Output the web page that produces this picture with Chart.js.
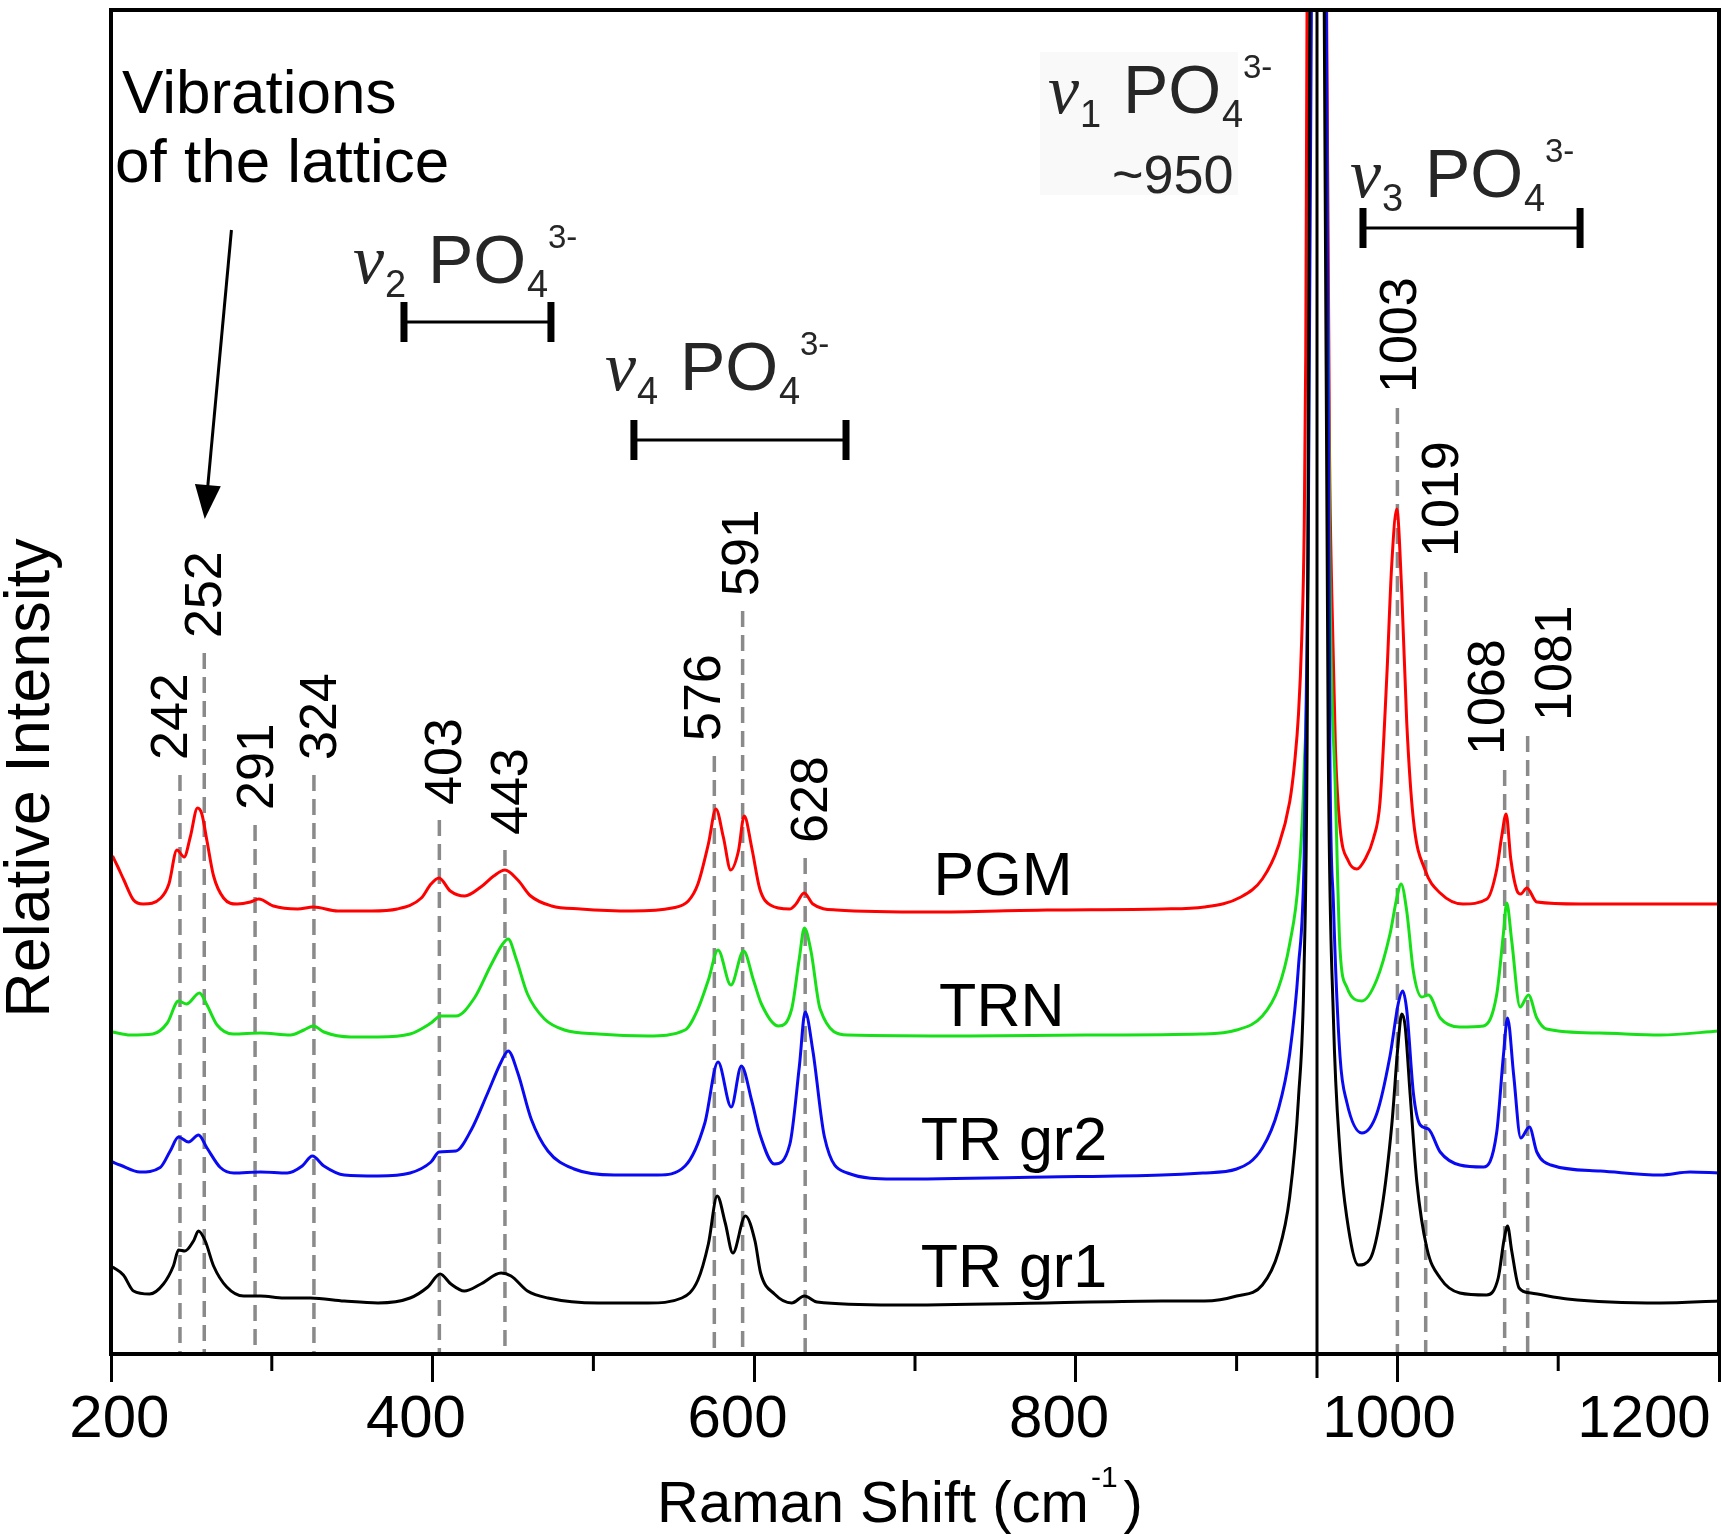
<!DOCTYPE html>
<html>
<head>
<meta charset="utf-8">
<script src="https://cdn.jsdelivr.net/npm/chart.js@4.4.1/dist/chart.umd.min.js"></script>
<style>
  html, body { margin: 0; padding: 0; background: #fff; }
  #wrap { width: 1722px; height: 1534px; }
</style>
</head>
<body>
<div id="wrap"><canvas id="c" width="1722" height="1534"></canvas></div>
<script>
// ---------------- DATA (Raman shift cm-1, relative intensity) ----------------
const pgm = [[201,498],[204,488],[208,474],[214,454],[220,450],[231,456],[236,470],[241,504],[245.5,497],[249.3,517],[253.8,546],[256.5,540],[259.7,513],[263.8,478],[270,456],[278.4,450],[286.7,452],[291.9,455],[301,448],[316,445],[326,447],[341,443],[362,443],[378,445],[393,456],[399,470],[404,476],[411,463],[420,458],[430,467],[438,478],[445,484],[453,474],[461,458],[474,448],[492,445],[524,443],[549,446],[559,453],[565,470],[571.5,510],[576.2,545],[580.8,517],[585.4,484],[590.2,503],[593.8,538],[598.5,506],[603.5,465],[610,449],[622,445],[626,450],[631,461],[636.5,450],[651,444],[710,442],[782,444],[854,445],[880,447],[902.7,457],[916,475],[926,508],[933,552],[936,590],[938.5,640],[940.5,715],[942,820],[943,1000],[943.8,1344],[950,2000],[956,1344],[957.8,900],[959.2,760],[961.5,604],[964.3,527],[969.5,493],[974.8,485],[980,495],[985,515],[989.2,552],[993.4,677],[996.5,790],[999.6,845],[1002.7,762],[1005.8,632],[1009.9,535],[1017.2,484],[1026.6,461],[1040.8,450],[1055.7,455],[1061.7,484],[1064.9,518],[1067.6,540],[1070.5,495],[1074.2,464],[1076.7,460],[1080.5,466],[1086.7,452],[1113.6,450],[1155.5,450],[1200,450]];

const trn = [[201,322],[212,319],[226,320],[235,331],[242,353],[247,350],[255,361],[259.7,349],[266,329],[276,320],[293,321],[311.6,319],[320,324],[325.8,328],[332.4,322],[349,317],[366,317],[386,320],[399,331],[405,338],[414.5,338],[426,356],[436,388],[443.6,410],[447,415],[452,395],[459,360],[469.6,335],[482,324],[503,320],[534,318],[557,324],[565,345],[571.5,374],[577.5,404],[585.5,369],[593.4,403],[599.5,374],[604.5,350],[615,328],[623.3,345],[628,395],[631.2,426],[635.3,403],[641,345],[658,319],[734,318],[806,319],[878,320],[900,324],[916,338],[926,366],[933,410],[938.5,475],[942,585],[944.5,800],[945.8,1344],[950,2000],[955.5,1344],[958,780],[961.5,560],[964.3,405],[968.5,367],[977.9,353],[987.1,374],[995.4,420],[999.5,455],[1002.3,470],[1005.8,443],[1010,382],[1015.2,357],[1019.3,359],[1026.6,336],[1038.8,327],[1053.5,328],[1061.7,359],[1065.9,420],[1068,451],[1071.1,413],[1076.3,347],[1081.5,359],[1086.7,336],[1092.7,325],[1125.6,321],[1163.6,319],[1200,323]];

const trGr2 = [[201,192],[205.6,189],[218,182],[230.6,186.5],[236.8,203],[242,217],[248.2,212],[254.4,219],[259.7,206],[268,186.5],[276.3,181],[293,182],[309.6,181],[318.9,188],[325.2,198],[332.4,188],[345,179],[366,178],[386,181],[399,192],[404,202],[414.5,203],[424,224],[434,260],[442.6,292],[447,303],[453,281],[461.3,235],[471.7,203],[488,185],[513,179],[540,179],[557,188],[569.3,231],[577.5,292],[585.7,247],[592,288],[598.5,253],[603.5,220],[612.6,190],[622.2,210],[628.1,288],[631.7,342],[636.5,303],[643.7,217],[658,181],[686.6,175],[782,177],[853.6,179],[879,181],[900,185],[916,206],[926,245],[933,300],[938.5,388],[942,497],[944.5,800],[946.5,1344],[950,2000],[955.8,1344],[958,604],[960.2,451],[964.3,298],[968.5,252],[977.9,221],[987.1,240],[995.4,298],[1000.6,351],[1003.3,363],[1005.8,344],[1010,260],[1014.2,229],[1019.3,225],[1026.6,202],[1038.8,189],[1053.5,187],[1061.7,221],[1065.9,298],[1068.5,336],[1072.3,279],[1076.7,216],[1082.1,227],[1086.7,202],[1095.4,189],[1126.2,183],[1163.6,179],[1182,182],[1200,181]];

const trGr1 = [[201,87],[207.7,79],[214,63],[224,60],[232.6,70],[238.8,88],[242,104],[246,103],[251.3,113],[254.4,123],[258.6,113],[263.8,88],[272,67],[282.5,58],[293,58],[307.5,56],[324,56],[345,53],[366,51],[386,56],[397,67],[404.7,80],[411.4,70],[419.7,63],[430,70],[442.6,81],[448.8,78],[459,63],[471.7,56],[503,51],[534,51],[555,56],[565,74],[571.5,110],[577,158],[582,131],[586.7,101],[594.5,138],[600.5,113],[604,81],[612.6,60],[623.3,51],[631.2,58],[639,52],[686.6,49],[782,51],[853.6,53],[880,53],[900,58],[916,69],[926,102],[933,157],[938.5,256],[942,388],[944,650],[945.5,1344],[950,2000],[954.5,1344],[957,604],[960.2,336],[964.3,202],[968.5,137],[975.8,89],[983,95],[990.3,145],[996.5,229],[1000.6,313],[1002.7,340],[1004.8,328],[1007.9,260],[1012.1,172],[1018.3,106],[1026.6,76],[1038.8,61],[1055.5,59],[1062.7,76],[1066.3,114],[1068.5,128],[1071.1,103],[1075.7,66],[1083,61],[1105.7,55],[1163.6,51],[1200,53]];

const seriesNames = ['PGM', 'TRN', 'TR gr2', 'TR gr1'];
const peakLabels  = ['242','252','291','324','403','443','576','591','628','1003','1019','1068','1081'];
const peakLinePos = [242.9, 258, 289.6, 326.2, 404.2, 445, 575.2, 592.8, 631.7, 1000, 1017.6, 1066.7, 1081];
const nu1Line     = [950];
const xTickLabels = [200, 400, 600, 800, 1000, 1200];

// ---------------- LAYOUT (positions in axis units) ----------------
const peakLabelLayout = {
  x:      [235.4, 256.9, 289.4, 328.4, 406.2, 447.2, 566.9, 590.5, 633.6, 999.8, 1025.9, 1054.5, 1096.3],
  bottom: [594, 716, 544, 594, 549, 519, 613, 758, 511, 961, 797, 599, 633]
};
const seriesLabelLayout = [[711.5, 459], [715, 328], [703.5, 194], [703.5, 67]];
const YMAX = 1344;

const FONT = '"Liberation Sans", Arial, Helvetica, sans-serif';
const colors = ['#ff0000', '#18e018', '#0a0af2', '#000000'];

const datasets = [];
[pgm, trn, trGr2, trGr1].forEach((s, i) => {
  datasets.push({
    label: seriesNames[i],
    data: s.map(p => ({ x: p[0], y: p[1] })),
    borderColor: colors[i], borderWidth: 3, pointRadius: 0,
    cubicInterpolationMode: 'monotone', fill: false, order: 4 - i
  });
});
peakLinePos.forEach((p, i) => {
  datasets.push({
    label: 'peak ' + peakLabels[i],
    data: [{ x: p, y: peakLabelLayout.bottom[i] - 15 }, { x: p, y: 0 }],
    borderColor: '#8a8a8a', borderWidth: 3.5, borderDash: [16, 8],
    pointRadius: 0, fill: false, order: 20
  });
});
nu1Line.forEach(p => {
  datasets.push({
    label: 'nu1',
    data: [{ x: p, y: -24 }, { x: p, y: YMAX + 50 }],
    borderColor: '#000', borderWidth: 3, pointRadius: 0, fill: false, order: 0,
    clip: { left: 0, top: 0, right: 0, bottom: 30 }
  });
});

function formula(ctx, x, y, sub) {
  ctx.save();
  ctx.fillStyle = '#262626';
  ctx.textAlign = 'left'; ctx.textBaseline = 'alphabetic';
  ctx.font = 'italic 70px "Liberation Serif", "Times New Roman", serif';
  ctx.fillText('\u03BD', x, y);
  ctx.font = '38px ' + FONT; ctx.fillText(sub, x + 32, y + 14);
  ctx.font = '68px ' + FONT; ctx.fillText('PO', x + 75, y);
  ctx.font = '38px ' + FONT; ctx.fillText('4', x + 174, y + 14);
  ctx.font = '33px ' + FONT; ctx.fillText('3-', x + 195, y - 35);
  ctx.restore();
}
function bracket(ctx, x1, x2, y) {
  ctx.save();
  ctx.strokeStyle = '#000';
  ctx.lineWidth = 3;
  ctx.beginPath(); ctx.moveTo(x1, y); ctx.lineTo(x2, y); ctx.stroke();
  ctx.lineWidth = 7;
  ctx.beginPath(); ctx.moveTo(x1, y - 20); ctx.lineTo(x1, y + 20);
  ctx.moveTo(x2, y - 20); ctx.lineTo(x2, y + 20); ctx.stroke();
  ctx.restore();
}

const decor = {
  id: 'decor',
  beforeDatasetsDraw(chart) {
    const { ctx, scales: { x, y } } = chart;
    ctx.save();
    ctx.fillStyle = '#f9f9f9';
    const bx = x.getPixelForValue(777.7), by = y.getPixelForValue(1302);
    ctx.fillRect(bx, by, 198, 143);
    ctx.restore();
  },
  afterDatasetsDraw(chart) {
    const { ctx, chartArea: ca, scales: { x, y } } = chart;
    const X = v => x.getPixelForValue(v), Y = v => y.getPixelForValue(v);
    ctx.save();
    // frame
    ctx.strokeStyle = '#000'; ctx.lineWidth = 4;
    ctx.strokeRect(ca.left, ca.top, ca.right - ca.left, ca.bottom - ca.top);
    // minor ticks
    ctx.lineWidth = 3;
    x.ticks.forEach(t => {
      if (t.value % 200 !== 0) {
        const px = X(t.value);
        ctx.beginPath(); ctx.moveTo(px, ca.bottom); ctx.lineTo(px, ca.bottom + 17); ctx.stroke();
      }
    });
    // peak labels (rotated)
    ctx.fillStyle = '#000';
    ctx.font = '52px ' + FONT;
    ctx.textAlign = 'left'; ctx.textBaseline = 'alphabetic';
    peakLabels.forEach((lab, i) => {
      ctx.save();
      ctx.translate(X(peakLabelLayout.x[i]) + 0.358 * 52, Y(peakLabelLayout.bottom[i]));
      ctx.rotate(-Math.PI / 2);
      ctx.fillText(lab, 0, 0);
      ctx.restore();
    });
    // series labels
    ctx.font = '61px ' + FONT;
    seriesNames.forEach((n, i) => {
      ctx.fillText(n, X(seriesLabelLayout[i][0]), Y(seriesLabelLayout[i][1]));
    });
    // lattice text + arrow
    ctx.font = '62px ' + FONT;
    ctx.fillText('Vibrations', X(206.8), Y(1241));
    ctx.fillText('of the lattice', X(202.5), Y(1172));
    const ax1 = X(274.9), ay1 = Y(1124), ax2 = X(258.3), ay2 = Y(835);
    const ang = Math.atan2(ay2 - ay1, ax2 - ax1);
    ctx.lineWidth = 3;
    ctx.beginPath(); ctx.moveTo(ax1, ay1);
    ctx.lineTo(ax2 - 30 * Math.cos(ang), ay2 - 30 * Math.sin(ang)); ctx.stroke();
    ctx.beginPath();
    ctx.moveTo(ax2, ay2);
    ctx.lineTo(ax2 - 34 * Math.cos(ang) + 13 * Math.sin(ang), ay2 - 34 * Math.sin(ang) - 13 * Math.cos(ang));
    ctx.lineTo(ax2 - 34 * Math.cos(ang) - 13 * Math.sin(ang), ay2 - 34 * Math.sin(ang) + 13 * Math.cos(ang));
    ctx.closePath(); ctx.fill();
    // phosphate band annotations
    formula(ctx, X(350.5), Y(1071), '2');
    bracket(ctx, X(382.2), X(473.6), Y(1032));
    formula(ctx, X(507.2), Y(964), '4');
    bracket(ctx, X(525.2), X(657.1), Y(914));
    formula(ctx, X(782.7), Y(1241), '1');
    ctx.fillStyle = '#262626';
    ctx.font = '54px ' + FONT;
    ctx.fillText('~950', X(822.5), Y(1161));
    formula(ctx, X(970.5), Y(1157), '3');
    bracket(ctx, X(978.6), X(1113.6), Y(1126));
    // axis titles
    ctx.fillStyle = '#000';
    ctx.font = '58px ' + FONT;
    const t1 = 'Raman Shift (cm';
    const w1 = ctx.measureText(t1).width;
    const tx = 657, tyb = 1522;
    ctx.fillText(t1, tx, tyb);
    ctx.font = '30px ' + FONT;
    ctx.fillText('-1', tx + w1 + 2, tyb - 35);
    const w2 = ctx.measureText('-1').width;
    ctx.font = '58px ' + FONT;
    ctx.fillText(')', tx + w1 + w2 + 8, tyb);
    ctx.save();
    ctx.translate(49, 778);
    ctx.rotate(-Math.PI / 2);
    ctx.textAlign = 'center';
    ctx.font = '63px ' + FONT;
    ctx.fillText('Relative Intensity', 0, 0);
    ctx.restore();
    ctx.restore();
  }
};

const labelText = { 200: ' 200', 400: '400  ', 600: '600  ', 800: '800  ', 1000: '1000 ', 1200: '1200         ' };

new Chart(document.getElementById('c'), {
  type: 'line',
  data: { datasets },
  options: {
    responsive: false, animation: false, devicePixelRatio: 1,
    layout: { padding: { left: 111, right: 3, top: 10, bottom: 0 } },
    plugins: { legend: { display: false }, tooltip: { enabled: false } },
    scales: {
      x: {
        type: 'linear', min: 200, max: 1200, position: 'bottom',
        afterFit(s) { s.height = 180; s.paddingLeft = 0; s.paddingRight = 0; },
        border: { display: false },
        grid: {
          display: true, drawOnChartArea: false, drawTicks: true, tickLength: 28,
          tickWidth: 3,
          tickColor: c => (c.tick && xTickLabels.includes(c.tick.value)) ? '#000' : 'rgba(0,0,0,0)'
        },
        ticks: {
          stepSize: 100, autoSkip: false, maxRotation: 0, minRotation: 0, padding: 2,
          color: '#000', font: { family: FONT, size: 60 },
          callback: v => xTickLabels.includes(v) ? labelText[v] : ''
        }
      },
      y: { display: false, min: 0, max: YMAX }
    }
  },
  plugins: [decor]
});
</script>
</body>
</html>
